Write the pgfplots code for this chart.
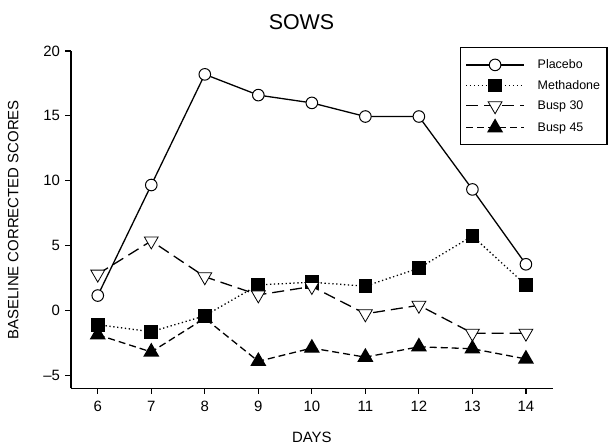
\documentclass[border=0pt]{standalone}
\usepackage{pgfplots}
\pgfplotsset{compat=1.18}
\usepackage{fontspec}
\setmainfont{Liberation Sans}
\begin{document}
\begin{tikzpicture}
\path[use as bounding box] (0bp,0bp) rectangle (611bp,-447bp);
\begin{axis}[
  at={(71bp,-388.3bp)}, anchor=south west,
  scale only axis, width=481.7bp, height=337.3bp,
  xmin=5.5, xmax=14.5, ymin=-6, ymax=20,
  axis x line*=bottom, axis y line*=left,
  axis line style={line width=1.4bp, -},
  xtick={6,...,14},
  ytick={-5,0,5,10,15,20},
  yticklabels={\textendash5,0,5,10,15,20},
  tick align=outside, major tick length=5.5bp,
  tick style={line width=1.2bp, black},
  /pgf/number format/assume math mode=true,
  tick label style={font=\fontsize{15}{17}\selectfont},
  xticklabel style={yshift=-4bp},
  yticklabel style={xshift=-2bp},
  xlabel={DAYS}, ylabel={BASELINE CORRECTED SCORES},
  label style={font=\fontsize{15}{17}\selectfont},
  xlabel style={at={(axis description cs:0.5,-0.146)}, anchor=center},
  ylabel style={at={(axis description cs:-0.12,0.5)}, anchor=center, rotate=0},
  title={SOWS},
  title style={font=\fontsize{21.5}{24}\selectfont, at={(axis description cs:0.4785,1.068)}, anchor=center},
  legend style={at={(axis description cs:0.807,1.012)}, anchor=north west,
    draw=black, line width=1.4bp, font=\fontsize{12.5}{14}\selectfont,
    row sep=6bp, inner xsep=5bp, inner ysep=10bp, cells={anchor=west},
    /tikz/every odd column/.append style={column sep=11bp}},
  legend image code/.code={%
    \draw[mark repeat=2,mark phase=2] plot coordinates {(0bp,0bp)(29bp,0bp)(58bp,0bp)};},
  legend cell align=left,
  clip=false,
]
\addplot[black, line width=1.3bp, mark=*, mark size=5.8bp, mark options={fill=white, solid, line width=1bp}]
  coordinates {(6,1.15)(7,9.67)(8,18.2)(9,16.6)(10,16.0)(11,14.95)(12,14.95)(13,9.33)(14,3.56)};
\addlegendentry{Placebo}
\addplot[black, line width=1.3bp, dash pattern=on 1.3bp off 2.6bp, mark=square*, mark size=6.2bp, mark options={fill=black, solid}]
  coordinates {(6,-1.1)(7,-1.64)(8,-0.41)(9,1.97)(10,2.18)(11,1.87)(12,3.26)(13,5.74)(14,1.95)};
\addlegendentry{Methadone}
\addplot[black, line width=1.3bp, dash pattern=on 12bp off 6bp, mark=triangle*, mark size=8bp, mark options={fill=white, solid, rotate=180, line width=0.8bp}]
  coordinates {(6,2.8)(7,5.36)(8,2.6)(9,1.2)(10,1.85)(11,-0.26)(12,0.4)(13,-1.75)(14,-1.75)};
\addlegendentry{Busp 30}
\addplot[black, line width=1.3bp, dash pattern=on 7bp off 4bp, mark=triangle*, mark size=8bp, mark options={fill=black, solid}]
  coordinates {(6,-1.87)(7,-3.2)(8,-0.6)(9,-3.92)(10,-2.9)(11,-3.6)(12,-2.8)(13,-2.95)(14,-3.74)};
\addlegendentry{Busp 45}
\end{axis}
\end{tikzpicture}
\end{document}
